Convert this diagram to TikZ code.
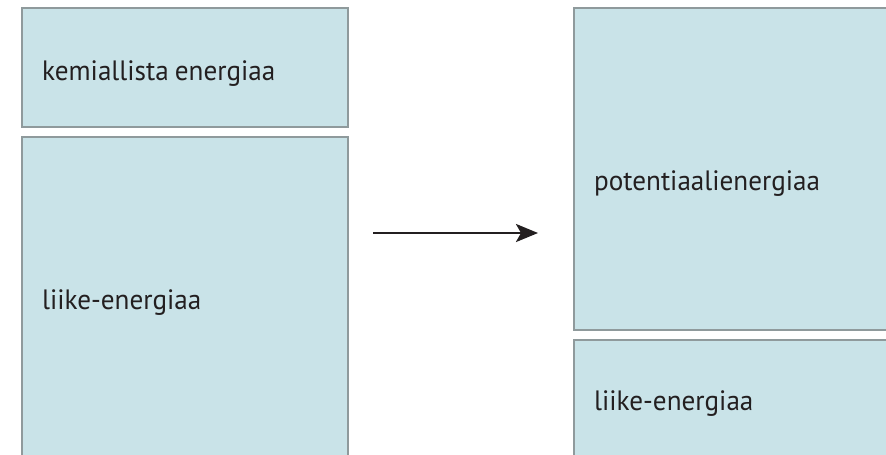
\documentclass[tikz,border=0pt]{standalone}
\usepackage{fontspec}
\setmainfont[FakeStretch=0.97,WordSpace=0.85]{PT Sans}
\usetikzlibrary{arrows.meta}
\definecolor{boxfill}{HTML}{C9E3E8}
\definecolor{boxline}{HTML}{8F9A9C}
\definecolor{txt}{HTML}{231F20}
\tikzset{
  ebox/.style={draw=boxline, line width=1.2pt, fill=boxfill},
  elabel/.style={anchor=base west, inner sep=0pt, font=\fontsize{28}{32}\selectfont, text=txt},
}
\begin{document}
\begin{tikzpicture}[x=1pt,y=-1pt]
\useasboundingbox (0,0) rectangle (886,455);
\clip (0,0) rectangle (886,455);
\fill[white] (0,0) rectangle (886,455);
\draw[ebox] (22,8) rectangle (348,127);
\draw[ebox] (22,137) rectangle (348,470);
\draw[ebox] (574,8) rectangle (900,330);
\draw[ebox] (574,340) rectangle (900,470);
\node[elabel] (k) at (42,80) {kemiallista energiaa};
\node[elabel] (l1) at (42,309) {liike-energiaa};
\node[elabel] (p) at (594,190) {potentiaalienergiaa};
\node[elabel] (l2) at (594,410) {liike-energiaa};
\coordinate (a1) at (373,233);
\coordinate (a2) at (538,233);
\draw[line width=2.7pt, txt, -{Stealth[length=22pt,width=18pt,inset=5pt]}] (a1) -- (a2);
\end{tikzpicture}
\end{document}
